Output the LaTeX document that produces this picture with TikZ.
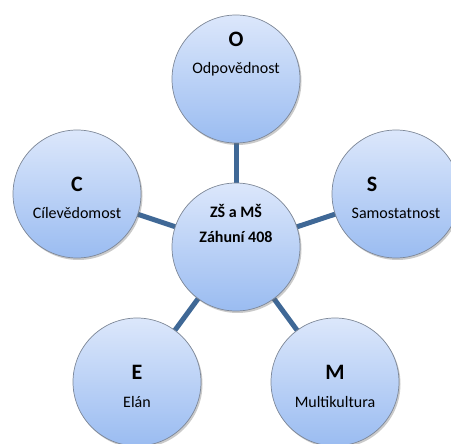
\documentclass[tikz,border=0pt]{standalone}
\usepackage{fontspec}
\setmainfont{Carlito}
\usepackage{xcolor}
\usepackage{tikz}
\usetikzlibrary{calc,shadows}
\definecolor{spoke}{HTML}{3F6896}
\definecolor{rim}{HTML}{7D8797}
\definecolor{bubtop}{HTML}{DCE7FB}
\definecolor{bubbot}{HTML}{9ABCF1}
\tikzset{
  bubble/.style={circle,minimum size=128pt,inner sep=0pt,draw=rim,line width=0.7pt,
    top color=bubtop,bottom color=bubbot,
    drop shadow={shadow xshift=1.5pt,shadow yshift=-2pt,opacity=0.35,fill=black!60}},
  head/.style={anchor=base,font=\fontsize{22}{26}\selectfont\bfseries},
  word/.style={anchor=base,font=\fontsize{16}{19}\selectfont}
}
% #1 name, #2 centre, #3 letter, #4 word, #5 letter offset, #6 word offset
\newcommand{\Bubble}[6]{%
  \node[bubble] (#1) at (#2) {};
  \node[head] (#1-h) at ($(#1)+(#5)$) {#3};
  \node[word] (#1-w) at ($(#1)+(#6)$) {#4};
}

\begin{document}
\begin{tikzpicture}[x=1pt,y=-1pt]
  \useasboundingbox (0,0) rectangle (451,444);
  \coordinate (pctr) at (236,247);
  \coordinate (podp) at (236,79);
  \coordinate (pcil) at (77,194);
  \coordinate (psam) at (396,194);
  \coordinate (pela) at (137,382);
  \coordinate (pmul) at (335,382);
  % spokes behind the bubbles
  \foreach \p in {podp,pcil,psam,pela,pmul}
    \draw[spoke,line width=5pt] (pctr) -- (\p);
  \node[bubble] (ctr) at (pctr) {};
  \node[word,font=\fontsize{16}{19}\selectfont\bfseries] (ctr-a) at ($(ctr)+(0,-29)$) {ZŠ a MŠ};
  \node[word,font=\fontsize{16}{19}\selectfont\bfseries] (ctr-b) at ($(ctr)+(0,-4)$) {Záhuní 408};
  \Bubble{odp}{podp}{O}{Odpovědnost}{0,-32}{0,-5}
  \Bubble{cil}{pcil}{C}{Cílevědomost}{0,-2}{0,25}
  \Bubble{sam}{psam}{S}{Samostatnost}{-24,-2}{0,25}
  \Bubble{ela}{pela}{E}{Elán}{0,-2}{0,25}
  \Bubble{mul}{pmul}{M}{Multikultura}{0,-2}{0,25}
\end{tikzpicture}
\end{document}
